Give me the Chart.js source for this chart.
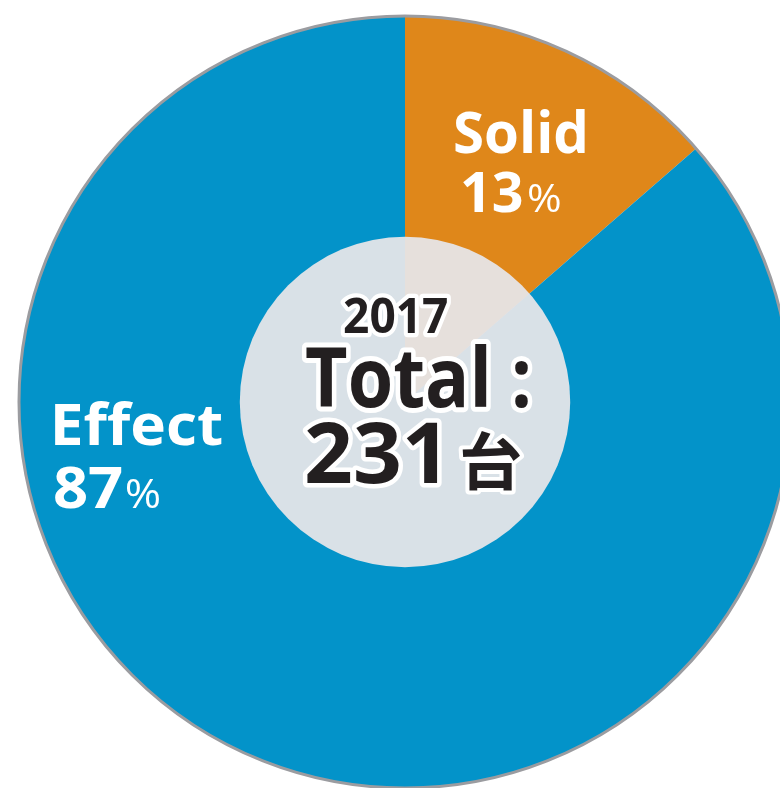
<!DOCTYPE html>
<html>
<head>
<meta charset="utf-8">
<script src="https://cdn.jsdelivr.net/npm/chart.js@4.4.1/dist/chart.umd.min.js"></script>
<style>
  html, body { margin: 0; padding: 0; background: #ffffff; overflow: hidden; width: 780px; height: 788px; }
  #wrap { position: absolute; left: 0; top: 0; width: 812px; height: 800px; }
</style>
</head>
<body>
<div id="wrap"><canvas id="c" width="812" height="800"></canvas></div>
<script>
// ---- data ----
const categories = ['Solid', 'Effect'];
const shares = [13.6, 86.4];          // slice sizes (%)
const percentLabels = ['13', '87'];   // printed percentages
const sliceColors = ['#df871a', '#0393c9'];
const yearLabel = '2017';
const totalLabel = 'Total :';
const totalCount = '231';
const unitLabel = '台';

const LATIN = '"Open Sans", "Noto Sans", sans-serif';
const CJK = '"Noto Sans CJK JP", "Noto Sans CJK SC", sans-serif';

function drawFit(ctx, text, font, left, baseline, width, fill, strokeW) {
  ctx.save();
  ctx.font = font;
  ctx.textAlign = 'left';
  ctx.textBaseline = 'alphabetic';
  const m = ctx.measureText(text);
  const natural = m.actualBoundingBoxRight + m.actualBoundingBoxLeft;
  const sx = width ? width / natural : 1;
  ctx.translate(left, baseline);
  ctx.scale(sx, 1);
  const x0 = m.actualBoundingBoxLeft;
  if (strokeW) {
    ctx.lineJoin = 'round';
    ctx.lineWidth = strokeW / sx;
    ctx.strokeStyle = '#ffffff';
    ctx.strokeText(text, x0, 0);
  }
  ctx.fillStyle = fill;
  ctx.fillText(text, x0, 0);
  ctx.restore();
}

const overlayPlugin = {
  id: 'overlay',
  afterDatasetsDraw(chart) {
    const ctx = chart.ctx;
    const arc = chart.getDatasetMeta(0).data[0];
    const cx = arc.x, cy = arc.y, R = arc.outerRadius;
    // outer grey rim
    ctx.save();
    ctx.beginPath();
    ctx.arc(cx, cy, R, 0, Math.PI * 2);
    ctx.lineWidth = 3;
    ctx.strokeStyle = '#9b9ca0';
    ctx.stroke();
    // translucent centre disc
    ctx.beginPath();
    ctx.arc(cx, cy, R * 0.428, 0, Math.PI * 2);
    ctx.fillStyle = 'rgba(231,229,233,0.94)';
    ctx.fill();
    ctx.restore();

    // slice labels
    drawFit(ctx, categories[0], 'bold 57px ' + LATIN, 455, 153, 130, '#ffffff');
    drawFit(ctx, percentLabels[0], 'bold 55px ' + LATIN, 463, 212, 59, '#ffffff');
    drawFit(ctx, '%', '38px ' + LATIN, 528, 212, 32, '#ffffff');

    drawFit(ctx, categories[1], 'bold 58px ' + LATIN, 55, 445, 167, '#ffffff');
    drawFit(ctx, percentLabels[1], 'bold 58px ' + LATIN, 55, 508, 67, '#ffffff');
    drawFit(ctx, '%', '40px ' + LATIN, 127, 508, 33, '#ffffff');

    // centre text
    const dark = '#231f20';
    drawFit(ctx, yearLabel, 'bold 48px ' + LATIN, 344, 333, 103, dark, 8);
    drawFit(ctx, totalLabel, 'bold 82px ' + LATIN, 306, 407, 222, dark, 9);
    drawFit(ctx, totalCount, 'bold 85px ' + LATIN, 307, 483, 131, dark, 9);
    drawFit(ctx, unitLabel, 'bold 62px ' + CJK, 462, 485, 58, dark, 8);
  }
};

new Chart(document.getElementById('c'), {
  type: 'pie',
  data: {
    labels: categories,
    datasets: [{
      data: shares,
      backgroundColor: sliceColors,
      borderWidth: 0,
      hoverOffset: 0
    }]
  },
  options: {
    responsive: false,
    animation: false,
    devicePixelRatio: 1,
    layout: { padding: { left: 19, top: 16, right: 21, bottom: 12 } },
    plugins: {
      legend: { display: false },
      tooltip: { enabled: false }
    }
  },
  plugins: [overlayPlugin]
});
</script>
</body>
</html>
